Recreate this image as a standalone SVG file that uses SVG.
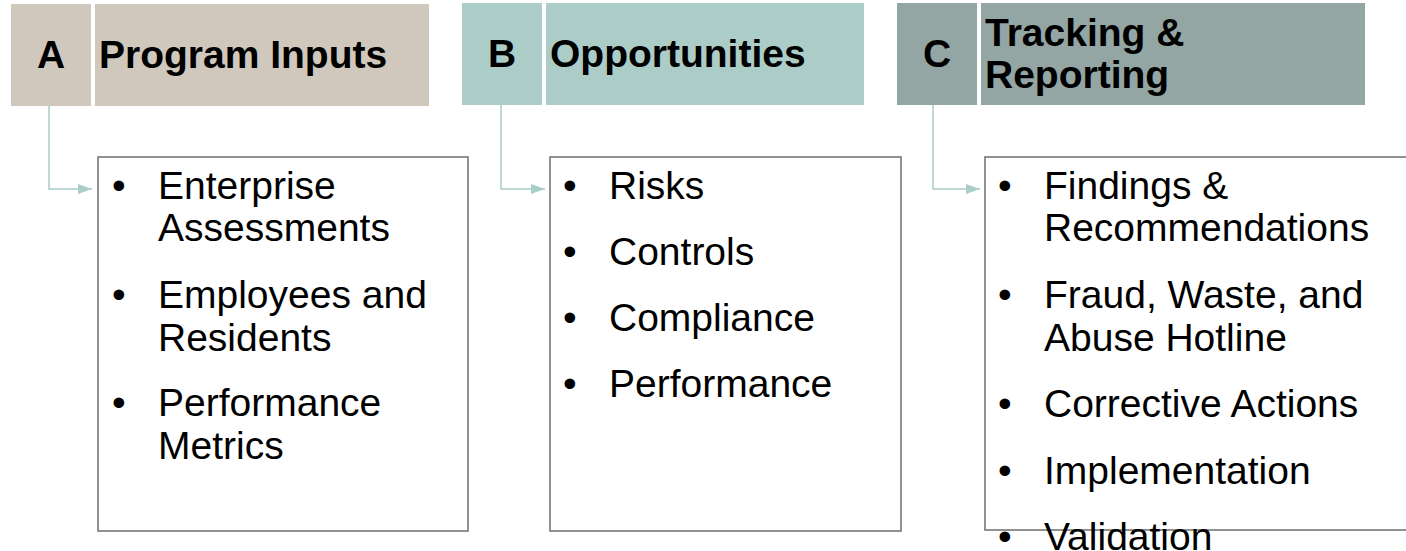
<svg xmlns="http://www.w3.org/2000/svg" width="1406" height="551" viewBox="0 0 1406 551">
<style>
.hdr{font-family:"Liberation Sans",Arial,sans-serif;font-weight:bold;font-size:39px;fill:#000}
.txt{font-family:"Liberation Sans",Arial,sans-serif;font-size:39px;fill:#000}
.box{fill:#fff;stroke:#6e6e6e;stroke-width:1.5}
.conn{fill:none;stroke:#a9cdc7;stroke-width:1.5}
</style>
<defs>
<marker id="arr" viewBox="0 0 14 10" refX="14" refY="5" markerWidth="14" markerHeight="10" markerUnits="userSpaceOnUse" orient="auto">
<path d="M0,0 L14,5 L0,10 Z" fill="#a9cdc7"/>
</marker>
</defs>
<rect width="1406" height="551" fill="#fff"/>
<g id="nodeA-header">
<rect x="11" y="4" width="80" height="102" fill="#d0c8bc"/>
<rect x="95" y="4" width="334" height="102" fill="#d0c8bc"/>
<text class="hdr" x="51" y="68" text-anchor="middle">A</text>
<text class="hdr" x="99" y="68">Program Inputs</text>
</g>
<g id="nodeB-header">
<rect x="462" y="3" width="80" height="102" fill="#accdc7"/>
<rect x="546" y="3" width="318" height="102" fill="#accdc7"/>
<text class="hdr" x="502" y="67" text-anchor="middle">B</text>
<text class="hdr" x="550" y="67">Opportunities</text>
</g>
<g id="nodeC-header">
<rect x="897" y="3" width="80" height="102" fill="#94a6a4"/>
<rect x="981" y="3" width="384" height="102" fill="#94a6a4"/>
<text class="hdr" x="937" y="67" text-anchor="middle">C</text>
<text class="hdr" x="985" y="46">Tracking &amp;</text>
<text class="hdr" x="985" y="88">Reporting</text>
</g>
<g id="connectors">
<path class="conn" d="M49,106 V189 H92" marker-end="url(#arr)"/>
<path class="conn" d="M501,105 V189 H545" marker-end="url(#arr)"/>
<path class="conn" d="M933,105 V189 H980" marker-end="url(#arr)"/>
</g>
<g id="nodeA-list">
<rect class="box" x="98" y="157" width="370" height="374"/>
<text class="txt" x="112" y="199">•</text>
<text class="txt" x="158" y="199">Enterprise</text>
<text class="txt" x="158" y="241">Assessments</text>
<text class="txt" x="112" y="308">•</text>
<text class="txt" x="158" y="308">Employees and</text>
<text class="txt" x="158" y="351">Residents</text>
<text class="txt" x="112" y="416">•</text>
<text class="txt" x="158" y="416">Performance</text>
<text class="txt" x="158" y="459">Metrics</text>
</g>
<g id="nodeB-list">
<rect class="box" x="550" y="157" width="351" height="374"/>
<text class="txt" x="563" y="199">•</text>
<text class="txt" x="609" y="199">Risks</text>
<text class="txt" x="563" y="265">•</text>
<text class="txt" x="609" y="265">Controls</text>
<text class="txt" x="563" y="331">•</text>
<text class="txt" x="609" y="331">Compliance</text>
<text class="txt" x="563" y="397">•</text>
<text class="txt" x="609" y="397">Performance</text>
</g>
<g id="nodeC-list">
<rect class="box" x="985" y="157" width="440" height="373"/>
<text class="txt" x="998" y="199">•</text>
<text class="txt" x="1044" y="199">Findings &amp;</text>
<text class="txt" x="1044" y="241">Recommendations</text>
<text class="txt" x="998" y="308">•</text>
<text class="txt" x="1044" y="308">Fraud, Waste, and</text>
<text class="txt" x="1044" y="351">Abuse Hotline</text>
<text class="txt" x="998" y="417">•</text>
<text class="txt" x="1044" y="417">Corrective Actions</text>
<text class="txt" x="998" y="484">•</text>
<text class="txt" x="1044" y="484">Implementation</text>
<text class="txt" x="998" y="550">•</text>
<text class="txt" x="1044" y="550">Validation</text>
</g>
</svg>
